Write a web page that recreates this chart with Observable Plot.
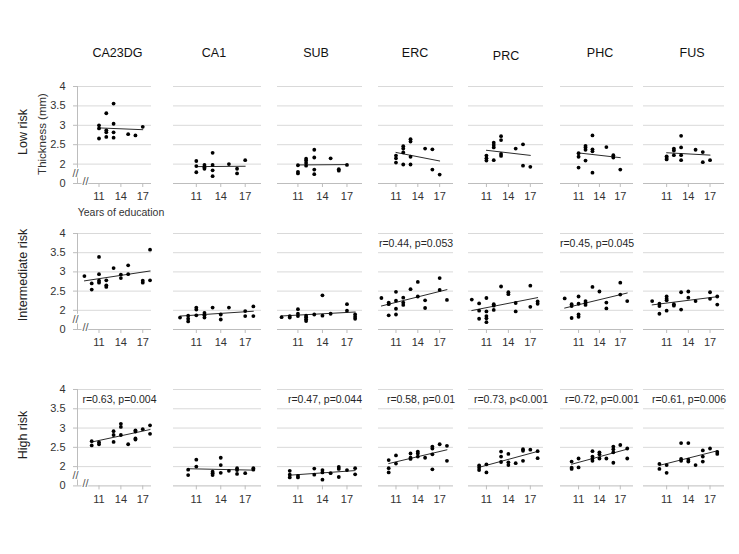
<!DOCTYPE html>
<html><head><meta charset="utf-8">
<script src="https://cdn.jsdelivr.net/npm/d3@7"></script>
<script src="https://cdn.jsdelivr.net/npm/@observablehq/plot@0.6"></script>
<style>
body{margin:0;background:#fff;}
#chart{position:relative;width:739px;height:554px;background:#fff;font-family:"Liberation Sans",Arial,sans-serif;color:#1a1a1a;overflow:hidden}
.lbl{position:absolute;white-space:nowrap;line-height:1;}
.panel{position:absolute}
</style></head><body><div id="chart"></div><script>
// ---------- data ----------
const regions = ["CA23DG","CA1","SUB","ERC","PRC","PHC","FUS"];
const risks = ["Low risk","Intermediate risk","High risk"];
const xTicks = [11,14,17];
const yTickValues = [1.5,2,2.5,3,3.5,4];
const yTickLabels = ["0","2","2.5","3","3.5","4"];
const yGrid = [2,2.5,3,3.5,4];
const yAxisTitle = "Thickness (mm)";
const xAxisTitle = "Years of education";

// [years of education, thickness (mm)]
const CA23DG_low = [[11,3.0],[11,2.92],[11,2.66],[12,3.31],[12,2.87],[12,2.82],[12,2.70],[13,3.56],[13,3.04],[13,2.82],[13,2.68],[15,2.77],[16,2.74],[17,2.96]];
const CA1_low = [[11,2.08],[11,1.95],[11,1.79],[12,1.98],[12,1.92],[12,1.88],[13,2.29],[13,1.98],[13,1.84],[13,1.69],[15,2.0],[16,1.88],[16,1.76],[17,2.10]];
const SUB_low = [[11,1.97],[11,1.80],[11,1.76],[12,2.14],[12,2.09],[12,2.03],[12,1.96],[13,2.37],[13,2.17],[13,1.86],[13,1.74],[15,2.15],[16,1.87],[16,1.83],[17,1.98]];
const ERC_low = [[11,2.22],[11,2.15],[11,2.04],[12,2.46],[12,2.40],[12,2.30],[12,1.99],[13,2.64],[13,2.58],[13,2.19],[13,1.99],[15,2.40],[16,2.38],[16,1.86],[17,1.73]];
const PRC_low = [[11,2.22],[11,2.15],[11,2.09],[12,2.55],[12,2.49],[12,2.43],[12,2.10],[13,2.72],[13,2.62],[13,2.26],[13,2.21],[15,2.40],[16,2.51],[16,1.96],[17,1.93]];
const PHC_low = [[11,2.28],[11,2.19],[11,1.91],[12,2.47],[12,2.43],[12,2.37],[12,2.09],[13,2.74],[13,2.38],[13,2.33],[13,1.78],[15,2.44],[16,2.23],[16,2.17],[17,1.86]];
const FUS_low = [[11,2.20],[11,2.16],[11,2.12],[12,2.40],[12,2.35],[12,2.23],[13,2.73],[13,2.43],[13,2.23],[13,2.10],[15,2.37],[16,2.31],[16,2.05],[17,2.10]];

const CA23DG_mid = [[9,2.89],[10,2.70],[10,2.54],[11,3.39],[11,2.94],[11,2.77],[11,2.72],[12,2.78],[12,2.65],[12,2.61],[13,3.10],[14,2.93],[14,2.84],[15,3.17],[15,2.94],[17,2.77],[17,2.72],[18,3.58],[18,2.78]];
const CA1_mid = [[9,1.81],[10,1.86],[10,1.78],[10,1.71],[11,2.07],[11,2.02],[11,1.87],[12,1.93],[12,1.87],[12,1.81],[13,2.07],[14,1.89],[14,1.76],[15,2.07],[17,1.98],[17,1.85],[18,2.10],[18,1.85]];
const SUB_mid = [[9,1.82],[10,1.85],[10,1.81],[11,2.03],[11,1.91],[11,1.85],[12,1.86],[12,1.82],[12,1.77],[12,1.72],[13,1.89],[14,2.39],[14,1.86],[15,1.91],[17,2.16],[17,1.99],[18,1.89],[18,1.83],[18,1.78]];
const ERC_mid = [[9,2.32],[10,2.20],[10,2.16],[10,1.87],[11,2.48],[11,2.25],[11,2.04],[11,1.89],[12,2.33],[12,2.20],[12,2.14],[13,2.55],[14,2.74],[14,2.36],[15,2.26],[15,2.06],[17,2.84],[17,2.53],[18,2.27]];
const PRC_mid = [[9,2.28],[10,2.18],[10,1.99],[10,1.78],[11,2.32],[11,1.97],[11,1.85],[11,1.79],[11,1.69],[12,2.16],[12,2.12],[12,2.01],[13,2.62],[14,2.47],[14,2.42],[15,2.19],[15,1.97],[17,2.64],[17,2.09],[18,2.23],[18,2.17]];
const PHC_mid = [[9,2.31],[10,2.16],[10,2.11],[10,1.80],[11,2.36],[11,2.17],[11,1.89],[11,1.83],[12,2.24],[12,2.19],[12,2.14],[13,2.61],[14,2.49],[15,2.20],[15,2.05],[17,2.72],[17,2.41],[18,2.24]];
const FUS_mid = [[9,2.24],[10,2.17],[10,2.11],[10,1.91],[11,2.36],[11,2.30],[11,2.26],[11,1.99],[12,2.16],[12,2.12],[13,2.47],[13,2.02],[14,2.49],[14,2.33],[15,2.24],[17,2.47],[17,2.30],[18,2.36],[18,2.15]];

const CA23DG_high = [[10,2.66],[10,2.55],[11,2.63],[11,2.58],[13,2.92],[13,2.82],[13,2.64],[14,3.11],[14,3.03],[14,2.82],[15,2.58],[16,2.94],[16,2.91],[16,2.73],[16,2.70],[17,2.97],[18,3.07],[18,2.85]];
const CA1_high = [[10,1.92],[10,1.78],[11,2.18],[11,2.00],[13,1.87],[13,1.83],[13,1.78],[14,2.23],[14,2.04],[14,1.84],[15,1.89],[16,1.96],[16,1.91],[16,1.81],[17,1.83],[18,1.96],[18,1.92]];
const SUB_high = [[10,1.89],[10,1.79],[10,1.72],[11,1.76],[11,1.72],[13,1.95],[13,1.79],[14,1.91],[14,1.85],[14,1.66],[15,1.83],[16,1.99],[16,1.94],[16,1.73],[17,1.91],[18,1.96],[18,1.80]];
const ERC_high = [[10,2.17],[10,1.96],[10,1.85],[11,2.29],[11,2.08],[13,2.34],[13,2.23],[13,2.20],[14,2.39],[14,2.34],[14,2.26],[15,2.23],[16,2.52],[16,2.47],[16,2.32],[16,1.93],[17,2.58],[18,2.54],[18,2.15]];
const PRC_high = [[10,2.03],[10,1.97],[10,1.91],[11,2.06],[11,1.85],[13,2.39],[13,2.26],[13,2.12],[14,2.33],[14,2.11],[14,2.04],[15,2.09],[16,2.45],[16,2.41],[16,2.15],[17,2.44],[18,2.40],[18,2.22]];
const PHC_high = [[10,2.13],[10,1.97],[10,1.94],[11,2.21],[11,1.98],[13,2.40],[13,2.26],[13,2.21],[13,2.15],[14,2.37],[14,2.32],[14,2.21],[15,2.21],[16,2.52],[16,2.45],[16,2.37],[16,2.10],[17,2.56],[18,2.47],[18,2.21]];
const FUS_high = [[10,2.07],[10,1.94],[11,2.04],[11,1.84],[13,2.61],[13,2.20],[13,2.15],[14,2.61],[14,2.18],[14,2.13],[15,2.04],[16,2.42],[16,2.26],[16,2.13],[17,2.47],[18,2.38],[18,2.33]];

const annotationsMid = {ERC: "r=0.44, p=0.053", PHC: "r=0.45, p=0.045"};
const annotationsHigh = {CA23DG: "r=0.63, p=0.004", SUB: "r=0.47, p=0.044", ERC: "r=0.58, p=0.01", PRC: "r=0.73, p<0.001", PHC: "r=0.72, p=0.001", FUS: "r=0.61, p=0.006"};

// ---------- tables built from the arrays ----------
const panelData = [
  [CA23DG_low, CA1_low, SUB_low, ERC_low, PRC_low, PHC_low, FUS_low],
  [CA23DG_mid, CA1_mid, SUB_mid, ERC_mid, PRC_mid, PHC_mid, FUS_mid],
  [CA23DG_high, CA1_high, SUB_high, ERC_high, PRC_high, PHC_high, FUS_high]
];
const panelNotes = [{}, annotationsMid, annotationsHigh];

// ---------- layout ----------
const FONT = '"Liberation Sans", Arial, sans-serif';
const colLayout = [
  {left:77, right:151, d0:8.05, d1:18.2},
  {left:172.5, right:260.5, d0:8.2, d1:19},
  {left:277, right:362, d0:8.5, d1:18.9},
  {left:378, right:453, d0:8.6, d1:18.9},
  {left:468, right:543, d0:8.55, d1:18.8},
  {left:560, right:633, d0:8.4, d1:18.9},
  {left:643, right:724, d0:7.8, d1:19}
];
const rowLayout = [{top:85.7,bottom:182.7},{top:233.3,bottom:329.3},{top:389.3,bottom:485.7}];
const headerX = [117.5, 214, 316, 415, 506, 600, 692];
const headerY = [53, 53, 53, 53, 56, 53, 53];
const rowLabelY = [132, 275, 435];

const chart = document.getElementById("chart");
function addLabel(text, cx, cy, size, rotate, color) {
  const d = document.createElement("div");
  d.className = "lbl";
  d.textContent = text;
  d.style.left = cx + "px";
  d.style.top = cy + "px";
  d.style.fontSize = size + "px";
  d.style.color = color || "#1a1a1a";
  d.style.transform = "translate(-50%,-50%)" + (rotate ? " rotate(-90deg)" : "");
  chart.appendChild(d);
}

regions.forEach((name, c) => addLabel(name, headerX[c], headerY[c], 12.5, false, "#111"));
risks.forEach((name, r) => addLabel(name, 23, rowLabelY[r], 12.5, true, "#222"));
addLabel(yAxisTitle, 43, 134, 11.5, true, "#333");
addLabel(xAxisTitle, 121, 212, 10.5, false, "#333");

const yLabelMap = new Map(yTickValues.map((v, i) => [v, yTickLabels[i]]));

for (let r = 0; r < 3; r++) {
  for (let c = 0; c < 7; c++) {
    const L = colLayout[c], R = rowLayout[r];
    const data = panelData[r][c];
    const note = panelNotes[r][regions[c]];
    const mL = c === 0 ? 45 : 4, mR = 14, mT = 14, mB = 26;
    const w = (L.right - L.left) + mL + mR;
    const h = (R.bottom - R.top) + mT + mB;
    const marks = [
      Plot.gridY(yGrid, {stroke: "#d9d9d9", strokeOpacity: 1, strokeWidth: 1}),
      Plot.ruleY([1.5], {stroke: "#bdbdbd", strokeWidth: 1}),
      Plot.axisX(xTicks, {tickSize: 4, tickPadding: 5, stroke: "#bdbdbd", fill: "#333", fontSize: 11, fontFamily: FONT}),
      Plot.linearRegressionY(data, {x: d => d[0], y: d => d[1], ci: 0, stroke: "#2b2b2b", strokeWidth: 1}),
      Plot.dot(data, {x: d => d[0], y: d => d[1], r: 1.9, fill: "#000"})
    ];
    if (c === 0) {
      marks.push(
        Plot.ruleX([L.d0], {y1: 1.5, y2: 4, stroke: "#bdbdbd", strokeWidth: 1}),
        Plot.axisY(yTickValues, {tickSize: 4, tickPadding: 8, stroke: "#bdbdbd", fill: "#333", fontSize: 11, fontFamily: FONT, tickFormat: v => yLabelMap.get(v)}),
        Plot.text(["//"], {frameAnchor: "bottom-left", dx: -2, dy: -7, fontSize: 11, fill: "#555", stroke: "white", strokeWidth: 2.5, textAnchor: "middle"}),
        Plot.text(["//"], {frameAnchor: "bottom-left", dx: 8, dy: 1, fontSize: 11, fill: "#555", stroke: "white", strokeWidth: 2.5, textAnchor: "middle"})
      );
    }
    if (note) {
      marks.push(Plot.text([note], {frameAnchor: "top", dx: r === 2 ? 5 : 0, dy: 6, textAnchor: "middle", fontSize: 10.5, fill: "#262626", fontFamily: FONT}));
    }
    const plot = Plot.plot({
      width: w, height: h,
      marginLeft: mL, marginRight: mR, marginTop: mT, marginBottom: mB,
      x: {domain: [L.d0, L.d1], axis: null},
      y: {domain: [1.5, 4], axis: null},
      style: {background: "transparent", overflow: "visible", fontFamily: FONT, fontSize: "11px", color: "#333"},
      marks
    });
    const div = document.createElement("div");
    div.className = "panel";
    div.style.left = (L.left - mL) + "px";
    div.style.top = (R.top - mT) + "px";
    div.style.width = w + "px";
    div.style.height = h + "px";
    div.appendChild(plot);
    chart.appendChild(div);
  }
}
</script></body></html>
